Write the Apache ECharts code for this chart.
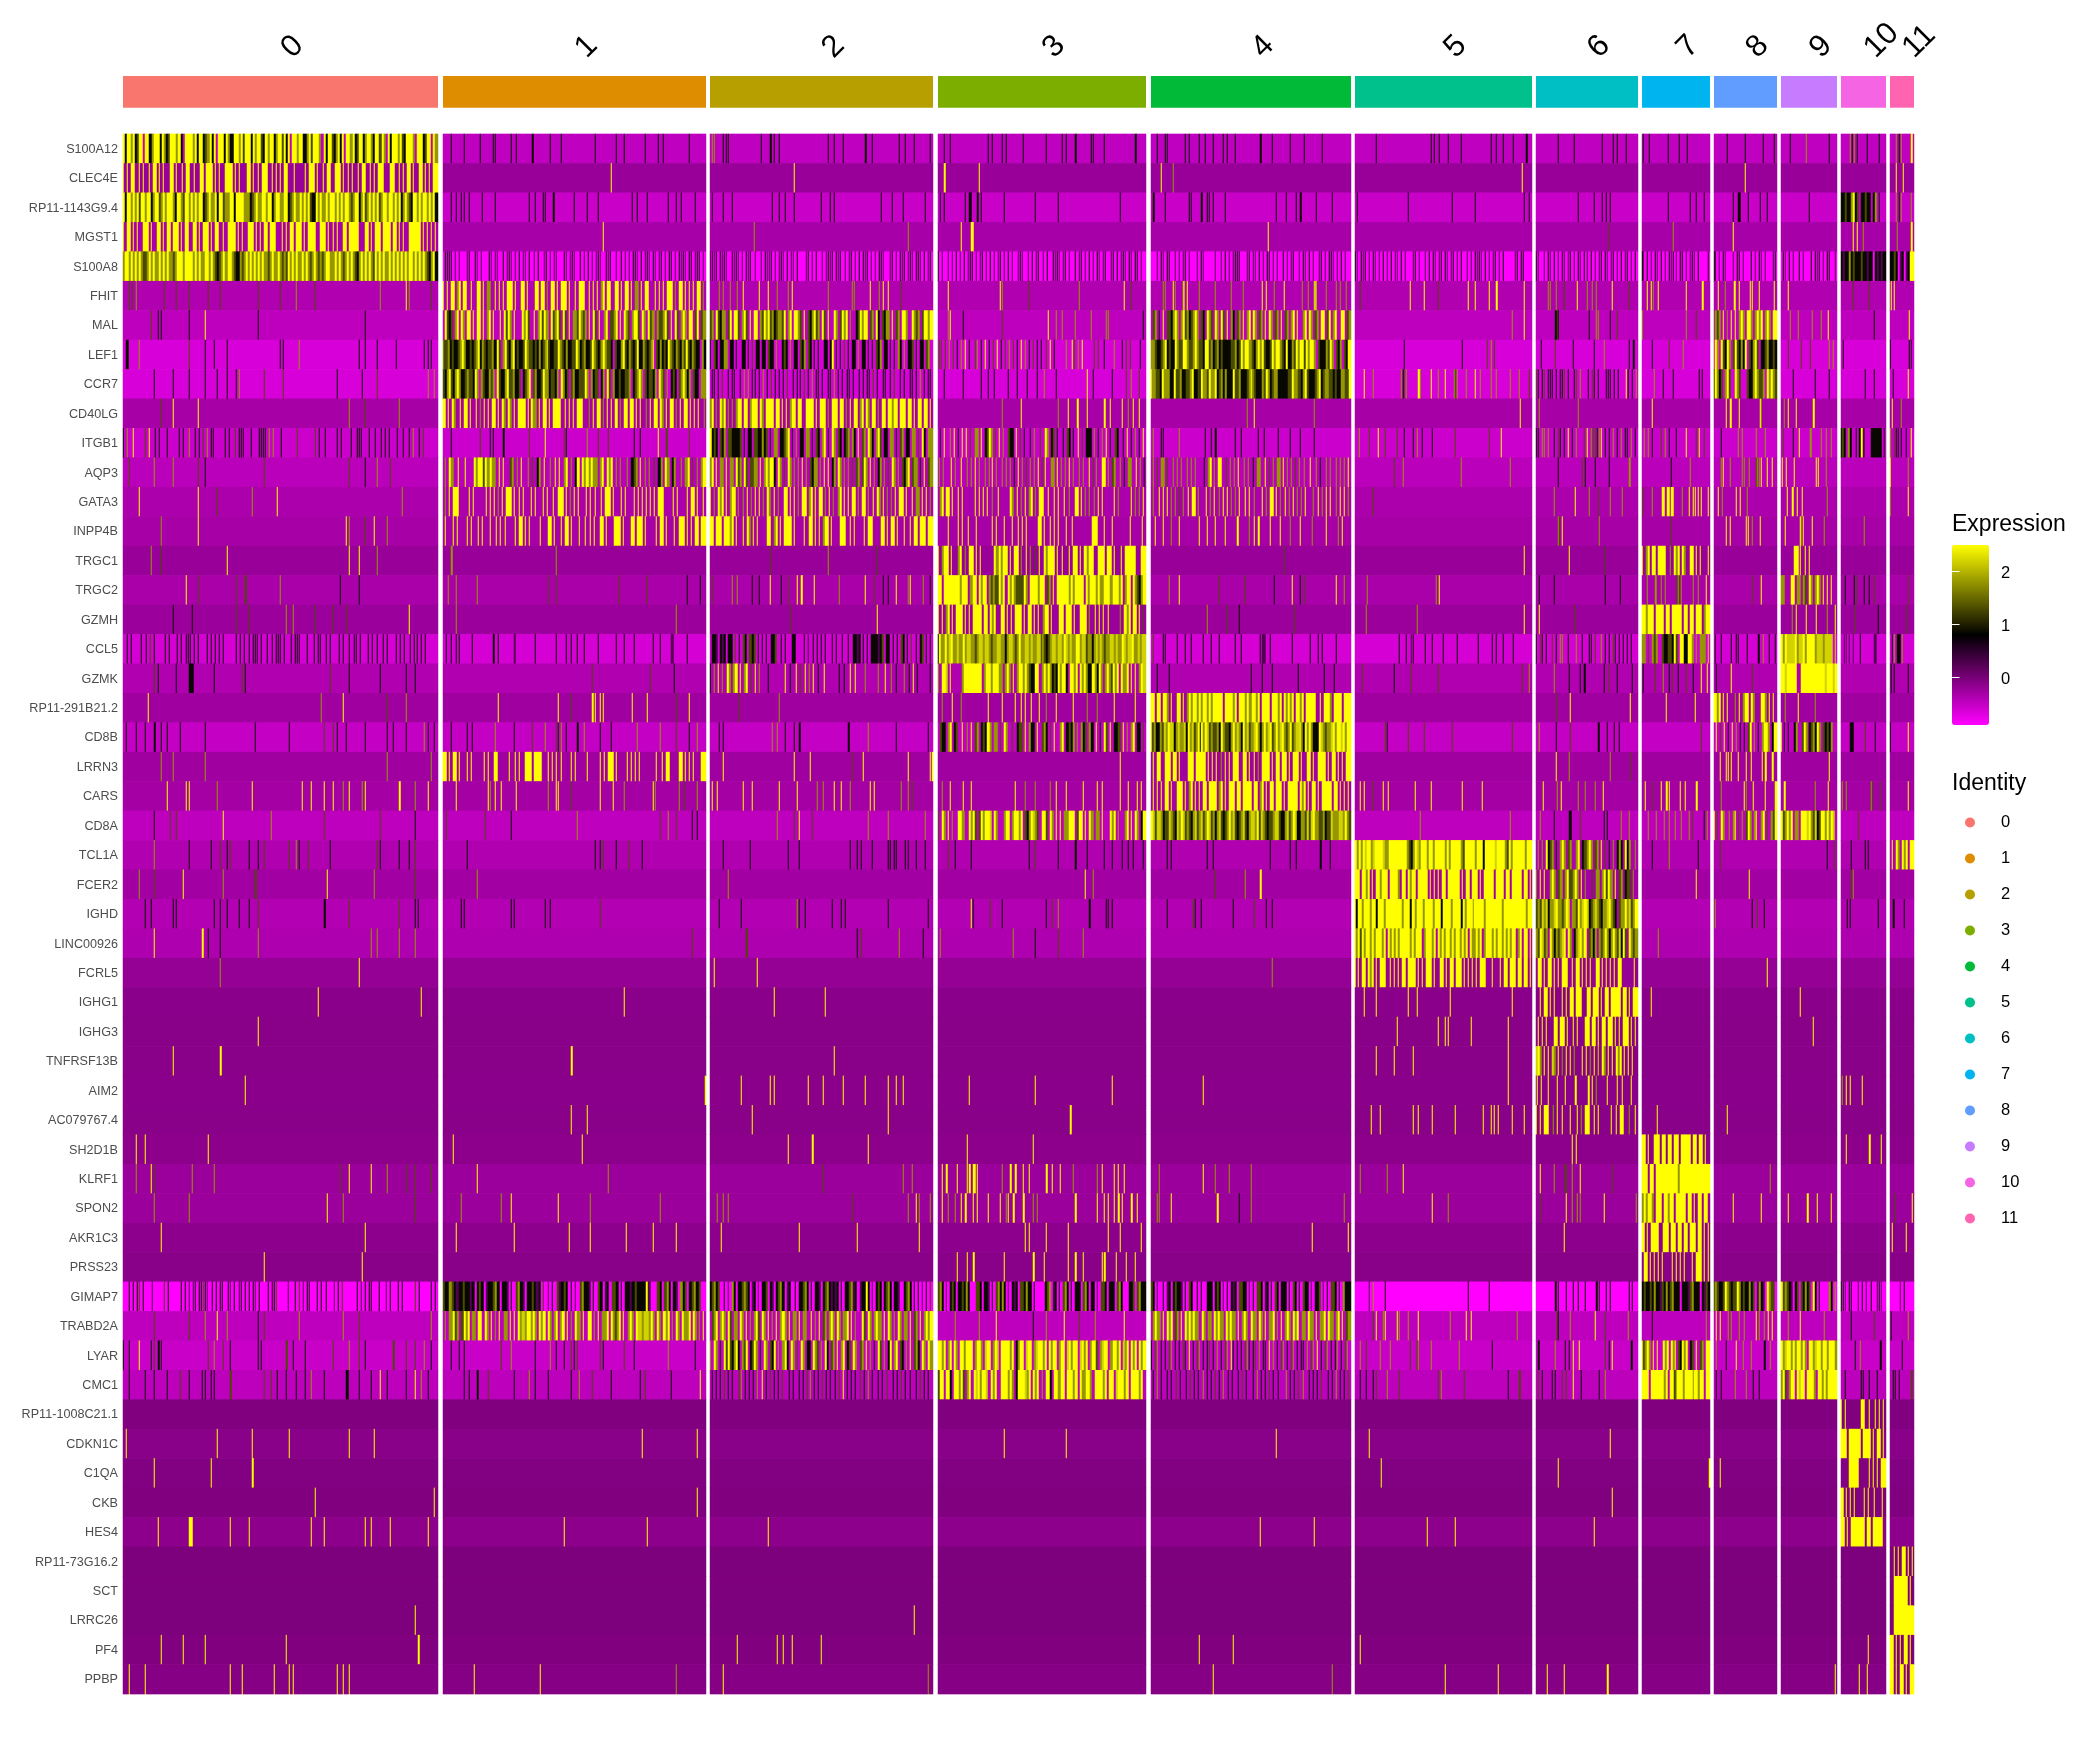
<!DOCTYPE html>
<html>
<head>
<meta charset="utf-8">
<style>html,body{margin:0;padding:0;background:#fff}#c{width:2100px;height:1749px}</style>
<script src="https://cdn.jsdelivr.net/npm/echarts@6/dist/echarts.min.js"></script>
</head>
<body>
<div id="c"></div>
<script>
const genes = ["S100A12","CLEC4E","RP11-1143G9.4","MGST1","S100A8","FHIT","MAL","LEF1","CCR7","CD40LG","ITGB1","AQP3","GATA3","INPP4B","TRGC1","TRGC2","GZMH","CCL5","GZMK","RP11-291B21.2","CD8B","LRRN3","CARS","CD8A","TCL1A","FCER2","IGHD","LINC00926","FCRL5","IGHG1","IGHG3","TNFRSF13B","AIM2","AC079767.4","SH2D1B","KLRF1","SPON2","AKR1C3","PRSS23","GIMAP7","TRABD2A","LYAR","CMC1","RP11-1008C21.1","CDKN1C","C1QA","CKB","HES4","RP11-73G16.2","SCT","LRRC26","PF4","PPBP"];
const clusters = ["0","1","2","3","4","5","6","7","8","9","10","11"];
const clusterCells = [315,263,223,208,200,177,102,68,63,56,45,24];
const gapCells = [5,4,5,5,4,4,4,4,4,4,4];
const clusterColors = ["#F8766D","#DE8C00","#B79F00","#7CAE00","#00BA38","#00C08B","#00BFC4","#00B4F0","#619CFF","#C77CFF","#F564E3","#FF64B0"];
const geneBase = [-0.48,-0.22,-0.53,-0.32,-0.9,-0.37,-0.47,-0.64,-0.64,-0.31,-0.56,-0.44,-0.35,-0.31,-0.22,-0.33,-0.24,-0.61,-0.37,-0.27,-0.51,-0.27,-0.29,-0.47,-0.37,-0.28,-0.39,-0.36,-0.19,-0.12,-0.11,-0.11,-0.12,-0.11,-0.13,-0.24,-0.24,-0.14,-0.11,-0.9,-0.47,-0.53,-0.45,-0.05,-0.11,-0.07,-0.05,-0.13,-0.04,-0.04,-0.04,-0.05,-0.09];
const stripeLevels = {p:0.25,k:0.85,d:1.3,o:1.8,l:2.2,y:2.5};
const exprRows = [
"=ykyyoykdyy.yykoyyykyokdyyyoyk.yyyyoykyykdoyky.yyykyokkyyoydyyykyoyydkyoyykoyydyky.yyoyykkoydyyyo.ykyydkoyky.yyoykdyykoyyokyydyo.ykyyyoydkyyyo.yyykdyy.yo|3k 8k 14k 19k 20k 26k 28k 34k2 41k 45k 58k 66k 69k 77k 82k 84k 94k|1o 2o 6k 7k 8k 23k 27k2 29k 31k 53k 56k 60k 70k2 73k 85k 88k 92k 99k|3k 6k 24k 26k 31k 33k 41k 52k 60k 62k 66k2 74k 75k 80k 95k2|3k 7k 8k 17k 19k 24k 27k 31k 36k 38k 42k 55k2 61k 70k 77k 86k|12k 43k 45k 48k 53k 60k 77k 80k 84k 90k 97k 98k|22k 38k 65k 76k 80k 89k|2k 11k 39k 55k 67k|21k 50k 79k 97k|17k 46o 88k|21o 25k 29o 36k 60k 86k|28o 38k 49o 92y 94y",
"=y.y.yy..y.y..y.yy.y.y..yy.y..y.yy..y..yy.yyy.y.y..yyyy.y.y...yy.y.y.yyy..y.y.y.yy...y....y.yyy.y..y.yy..yyy.y.y.y..y.yy..y.y.yyy...yy..y.y.yy.y..yy.y.y.yy|64y|38y|3y2 20y|5y 11o|95y|||50y|||26y 57y",
"=ykyyoyoydyyoyykoyydoyoyyyokyyodyyoyoyoyykdoyooykyydooyykyyyyoookdoyooyyoyykoyyooyykdoyooyoyoydkkyoyooyoyyoyoyoyyodoyykoydoyoyoydoyyoyyoyoykoyodkyyoyoyyoyoyk|3k 5k 7k 8k 10k 15k 20k 33k 35k 38k 39k 42k2 50k 55k 59k 72k 74k 78k 86k 89k 91k 96k|1k 6k 10k 28k 31k 34k 38k 50k 54k 56k 77k 82k 87k 97k|1k 3k 13k 15k2 16k 19k2 21k 32k 47k 58k 88k|1k2 7k 19k 20k 25k2 28k 29k 31k 37k 63k 68k 73k 75k2 83k 91k|1k 30k 55k 68k 96k 99k|42k 57k 65k 69k 73k|39k 71k 80k 93k|31k 38k3 55k 74k 86k|51k|=kkdkkoykd.kkdkk.ko.k..|28o 38k 49o 92o",
"=y.yy.y.y..yyy.y..yy.y.yy.yyy.y.yy..yy.y.yyy.y.yy..y.yyyy.y.y..yyy.y.y.yy.yyy...y.y.yy.yyy.y.yyyy..yyy.y.y.y..yy.yyyyy...yy.y.yyy.yyyy.yy.y.y..yyyyyy.y.y.y.y|61y|20o 89o|11y 16y3|59y||71d|47o|31y||27y 36y 51o|32o 93y2",
"=oyyoyoyoyoddoyoyooyoyoyoodoyyyoyyyyoyoyooyyoyodkdoyoyyodkkodoyoyoyoyoyoodoyooyododyoyoyooyoyodoyododoyyooyoyodoyoyodkoyoyoyodyoyoyooyoyoyoyoyoyyoyoyoyodkoyk|~.kkkk.p.p...pk..kp.p...kp.pp..k.pkp.p.k.pp.k.p.k..pk.p.pp...kp.pkp..k.p.k.p.pkp..kpk..p.k.p.p.kkp.k.pkp.kp.pk.p.kk.p.kpkp.kk.pkk.p|~pkpk.kpkp..kpkp.p.kpk.p..p.kppk.p.pkp.k.pp.k...pk.p.k..p.pkpk.kpk.p.pk.p.k.kpk.p.p.kkp..pk.p.kpk.pkp.kkp.k.pk|~k.p..p.p.k.p.k.pkk.p.pk.p.k.p.pk.p.k.p..pkp..p.k.pk.p.k..kpkp.pk.p..k.pk.p.k.p.kp.pk..pk.k.pkp.kp.kk.p.|~...p.kp.kk..p.p.pk.p...p.kp.....p..p.k.p.pkkk...pk.pp.k.p.kk.p.p..k.p.pk..p.kp.k.p..pk.p.kkp.p.k.p..|~kp.kpk.p.kp.p.k.p.k.pp.k.p...pk.p..p.k.kp.pk.kp.pk.p.k..p.p.kpkp.k.p.pk.p.k.....pk.kk...|~kp..p.kp.k.p.kp.pk.p.kp.kp.k.p.pk.kp.pk.p.k.pk.p.k|~kp.k.p.kp.k.p.kpk.p.kk.p.pkp.k....k|~pk.p.kp...p.kk.p...k.p.kp.p...pk|~.kp.k.p..k.p...k.kpk.p.kk..p|=kpkkokdkkkdkkpkk.kpkpk|=kkdk.pk.pkyy",
"2d 3d 4o 13d 17d 21d 27d 31d 43d 50d 55o 61d 82o 90y 91o 98d|=y.y.yy.oy.yy..y..yy.y.oo..y.y.y.yyy.y..yy.y...yy.yy.o.yy.y.yyy.y..y.yyy..y.y.y.oy.yy..yy.y.yy.y.oo.y.yy...y.y.y.yyy.o.yy.y.y.y.yy.o|4o 6o 9o 12o 15y 22y 26y 30o 35o 37y 53o 64o 65o 72y 76o 78y 80y 86d|5y 30y 31o 44d 68o 90y 93d|6o 7o 11y 12o 16l2 18y 24o 32o 40o 46o 56y 58y 62o 67y 76o 79o 82l3 88o 93o 95o 98o|3d 31y 39y 47d 64y 68y 76y 80y2 96y|12o 14o 20o 28d 41y 50o 55o 59o 75y 92d|7y 13y 16o 24y 66y 89y 91y|7y 18o 33y2 40y 58y 61y 72y 96y|12y|28d 63d|6y 19y",
"9d 11k 12k 21k 26y 43k 77k|=.ydkd.oy.yo.yy.y.yy.y.oy.y..y.ydyo.y...yoyd..y.oydyo.ydoyd.yd.y.oodyodo.y.yd.y.oy.ddoy.y.yod.oyyd.yo.ydo.oddoyd.y.yd.oyo.yy.dy.do|=do.ydkoo.dy.yyd.oyd.y.yy.odyoydokdoody.oy.yyod.y.dkoydo.yd.y..yo.dyoy.o..kdyoyy.do.yk.dkoo.y.do.yyo..yodo.dyyoy|5o 6y 12k 31d 53y 57o 60o 66o 74o 81o 82o 99k|=.do.k.y.ddkoyo.oydokdoyo.dk.yod.yo.yd.y.ok.do.y.oy.yo.do.y.yo.do.y.do.oy.y..oy.yo.do.yy.dy.oy..yy.do|89o 96y|19k4 21d 52k 59o 61o 73k 80d|0o 66o 81d|=.odo.y.o.y.y.oyo.yyo.oyoy.oyo.yy|17o 30o 56o 73o 86y|76k|81y",
"1k3 5o 21d 26k 29k 33k 50k 51k 56o 75k 77k 81k 87k 96k 97k 98k|=oddokdkkdoyokkdkdoykodkddokkyd.oydkoykdkkdyoddkdkokdoydkkddyodkokkddyokdokkdyodkdoyoddk.dkkoydkodkdykkodkdoy.dkokdkyodkodkodydkodkk.ok|=k.dk.kkoo.kk.k..kk.k.d.kk.kk.dkk.o..kdk.o.kk.dko.dk.k.k..kk.ky.k.k.d.k.kk.o.kk.k.k.dko.kk.k.k.ok.o.kkd.k.kk.do.|~.dd.d.o.d.k.o.y.k..do.k.y.k.d.y.k.d.o.d.k.y.o.k.d.k.k..d.y.k.....o..yd.o.y.....d.d..k....o...k.d.d....k..|=oodkkdoykdkkyoddyyoddoyoddkyydokdokdkkkkddokdyoyyodkoyoydkkdyoyyodkykkodyoyydyoyyo.dkkkodyo.dko.dky|28k 61k 75d 77o 79d|5k 19d 37k 57k 67o 92k 96k2|15k 41d 61o|=.yo.ydkyo.dydkoky.dkoyd.kkdokkdk|12d 36d 53d 88o 94o|5k|2k 81k 92k",
"10k 16k 21k 26k 30k 33k 36k 37o 45d 51d 68k 76k 81d 97o 99o|=dkoydkoyokkdoddkyo.odkkodo.ydkkoyddokkd.kdoy.dokkdyookddko.yokd.dokkdddyo.okdd.ko.yd.okkdkkddo.kdoyo.dkddko.yod.o.kdk.doyoko.dkk.oo|~.kk.k.d..k.kk..k.o.o.kk.k.o.k.d.k.k.k.d..k.kk.d.k.o.kk.k..kk.o.k.k.kk.k..k.k.kk.d.k..kk.k.d..k.k..kk.k.o.k.kk|3k 12k 21k 24k 27k 34k 38k 43k 48k 51o 57k 72y 75k 84k 91d 93o 97d|=yooddkyoookkyddokkddoykkdkyoodyooykdokokkkyddokkkdoyodkkkodyokdookkkkkddyooddkoydkkkdoykdooddkdkkooddy|5y 10o 26o 27k 28d 29o 36y2 37o 43y 47o 51y 56o 57d 58o 63o 68y 71o 77o 80o 88o 93o 99d|~dk.kd.kkk.k.kkd.k..kd.o...k.dk.k...kkk.k.k...yk.k.o|18o 32k 46k 85k 89k|=dyokd.oyd..yod...dkkoyoddo.yoyod|22k 62k 87k|54k 76k|13k 79y",
"12d 16y 24y 72o 77d 88o|=yy.y.yo..y.yy.y..y.o.y.y.yy.y.yo.yo.y.yyyy.y.yoo.y.yy.y.yyyy..y.y.y.yyy...o.y.yy.o.y.y.yy.o.yy.yy.y.y..o.y.yy.yo.y.yy.o.y.yy.y.y.y..o|=oy.o.yoy.o.o.oyy.yy.oyyy.yo.yyyy.yy.y.y.oyy.yy..yyyy.y.yyy.o.yyy.yy.o.y.yy.oy.yo.yy.o.yy.yyoyy.yyy.yy.y.yy.yy.y|31o 40y 58o 63y 67y2 72y 80y2 83y 89y 92o 94y 97y|48o 52y 82o|94y|3o 42o|15y|19y 26y2 40y 74y 76o|5o 12y 27y 58y2||10y 48o",
"~k.o..y.....d.y..k.k...k.....k.k..o..k.k.d.o.kk.....k.k..d.kkk...k...kkkk.o.o...k.......d........d.k..k.....k.k....k..kkk...k..k..k.k.k...k..k..k.o..k.d......|3k 14d 18k 19k 23k2 33d 39y 46d 47k 55o 59d 63d 73k 75k 82y 85d2 94d|=ykdk.dko.ddkkkkd.k.kk.ddkkokd.k.oo.kkdoy.k.o.kk.oo.k.dk.oy.k.yo.dk.kdo.ok.y.do.yok.oyd.kk.oo.k.do.kk.oo.d.yk.oo|=.k.y..o.y.k.y.y.d.oo.y.kdyo.d.y.o.dkk.y.d.k..k.o..d.yo.kd.k..k.dk.k.y.d.kkk.o.k.o.y.k.dk..k.y.k.o.k.y|1o 5k 6k 14o 27k 30k 32k2 42k 45k 54k 57k 64k 70k 75k 82k|2o 8d 13y 17d 24d 28k 33k 35o 38k 44k 57d 76d 83y|~kk.oo.o..k.dk.k.y.k.o...dy.oddkoy.k.k.o.k.o.kk.o.k|3o 9o 15k 29d 34o 41k 50k 65y 81d 85y 92d|11k 38o 45o 67o 82o|3d 21k 32y 53o2 73o 81o 90o|=kdk.ok..k.kyp...kkkkkk.k|2o 18d 26k 34k 47k 71k 92y",
"2d 10o 16o 24d 26k 45d 72d 77k 81o 85d|=.o.yo..y..y...yoyydyoyoo.y.y..do.o.y..o.d.ko.y..o.y.y.oy.o.ky.yoyoyoo.oy.yoy.o.o..o.kdo.y.o.o.d.ko.yo.ko..o.oy.d.o.oy|=oy.y.oo.y.oo.ydo.yd.ddoo.y.oyoyyk.yo.d.yo.o.o.y.o.dkoo.o.y.y.ko.yo.o.o.d.do.dyo.y.o.ko.o.d.yo.o.dkoy.doo.k.y.do|=.o.o...y.o..y..o.o.y.o..o.o.y.o..o.o.o.k.y.o.d.o.o.y.d.y..oo.y.o.o.y.o..o.o..y.d.o..yy.o.do..o.k.oo..y.o.k|=.o.d.oo.d..o.o.o..o.o.o...k.oy.o.yy..d.o.o.y..o.o.k.oo..y.d.o.oo.y.o.o.d.o.o..y..o.k..o.o..o.o.o.y|22d 27o 60o 88o|22k 46d 49k 58k 72k 92o2|43k 71o|11o 15y 25o 45o 49o 57o 68d 70o 72o 75y 86y 94y|1y 9y 23y 63y 68y 81o||2y 77o",
"5y 24y 30d 41o 49y 89o|=.o.y.yyy.....y.y.....y.y.y.o.y.yyy.y.y.y...y.y...y.y..y.yyy.y.o.y.y...y.y.y..y.yyy.y...y.y...y.y.y.y.y.y.yyy....y.y....y.yy.y..y|=y.o.yoy.y.oyy.o.o.y.o.y.y.o.yo.y.o..yy.y.y.o.yy.oy.y.yy.o.y.o.oy.y.y.yy.o.yy.o.y.yo.y.o.o.y.yy.y..y.oo.y.y.o|=.oy.yy.y..y.y.....y.y.y.y.o..y.....yo.y.o.y.oy.o.yy..y..y.y..y.o..yy.y.o.o.o.y.y.....y.o.....y.o.o.y|=.o..y.y.y.o.o.d.o.y.yy.o...y.o.y.o.y.y.o.o.y..y.y.o...y.o.yy.y.o.y.o.y.o.o.y...o.y.o.y.y..o.y.y.o|10d|18o 39y 52o 61d 73o 85o|1d 15o 30y3 38y3 44y3 59o 70y 76y 79y 83y 88y 99y|6y 13o 35y 42y 54o|11y 20y2 29y 38y 84o||2o 78y",
"12o 24y 71y 72o 77d 80y 84o|=.y...y.y....y.y..y.y...y..y.y.y....y.yy.y.y....y...yy.y..y.yy.y...y..y.y.y..yy.y...yyy.y...yy.yyy.y....y.yy.y...y.yyy.y.y.yy.yy|=yy.yyy.yyyoy.y..y.yo.y.y....yy.oy.y.yyyy.y....y.yy.y.y.oyy.y...yyy..y.y....y.yy....yy.y.yy.y..y..y.yy.yyy.yy|=.....y....y.y..y...y.......y.y...y...y..y.y.y.....yy.y..y.y.y...y..y.........yyy...y...y........y.....y.|2y 6y 10o 14y 24y 28y 32y 37y 43y2 49o 52y 54y2 60y 65y 70o 75y 81o 88y 94o 96y||22o 23d 26y 62o|43d|19y 26y 51y 55y 62o 74y|8y 34y 37o 40y 56y 79o|52o|",
"9o 12d 33y 72y 75y 81o|3o2 43o|27d 53o 75d|=y.oyy.y..oy.o.yy.y.y.....yoyoyy.y.yy.o.y.o.d.y.yoyyy.y.y..y.yy.y.yoyy..yyy.yy.y..y.yyyyy..yy|67d|96y|33y 68d|=y.oy.yy.yyyy..o.yoy.yo..yy.y.y...y||24y5 35y 44y 50y||",
"20y 24d 36d 39d2 50o 69k 75k|2o 5o 13o 40d 43d 67d 78d 93k 98k|1d 10o 12o 19k 22k 27y 32k 35d 39y 41y2 47y 58o 70y 74d 78k 80k 84y 89o 90y 96o 99k|=yy.yyyyyyyyoyyy.oyy.yoyy.ododdyoy.yoyoddddyo.yyyyoyy.do.y.yyyyyyoyoyyyy.yoyyyoyooyyyoyyyoy.oyy.yodkoy|9o 14y 34d 47d 62k 71y 75k 77d 93y 97o|7o 46o 48y|3k 18k 68k 83k|8o 19o2 28o 35o 50d 53o 55d 58o 76o 83o 95y|62d 75y|=oo...yy.oo.od.yo.oyo.y.y.y..|10k 29k 34d 52k 64k 76d|77d",
"16k 22k 36d 40d 52o 54o 61d 67d 71d 91y|5o 89o|36d 75y|=y.y.oy.y.yyy.y.y.yyyy.yy.yoy..yy.y.y.yyy.y.yy.y.y.oyy.y...yy.yyy.y..yyy.o..y.y.y.y.....o.yoy.yy.y.d|28o 38d 44k 72d|6o 35o 96y|3y 39d|=yyoyyy.yyyy.yy.yyyyy.yy.yy.yyy.oyy||20o 27y 45y 64y 84o 98y|32d 83k|70d",
"~..k.k....k.k.d.k....k.k...k.k.kkk.k.k...k.k.k.k.k.....k.k.k.k.kkk.k..k.k.kkk.k..k.kkk...k..k.kk..k.k...k.k..k.kk.k...k.k.k..k.k...k.k.k..k.kk.k.k.....|1k 3k 5k 6k 11k 19k2 21k 27p2 35k 43k 47k 49k 51k 54k 59k 66k 69k 73k 80k 83k 87p3 93k|=.kkp.kpk.kk.d.k.dk.dkd.k.k.k.kkd..k.k..kk....k.p.k.k.k.k..k.k..k..k.kkpk.k.k.kkkpkd.kk.k.k.dk.k.d.k.kd.k.k|=kyooyolyoolooyolloodollollodoollookollodoyoolloloolldodkdollolloylolooyyolldookololodoollolooylollyoololl|1d 6k 7k 13k 17k 20k 26k 30k 34k 42k 45k 55k 56p4 60k 71k 80k 84k 86k 93k|25k 29k 32p 33k 40k 44k 50k 58k 70k 78k 80k 84k 90k|~k.dk.k..d.k.oo..k...o..k..kk.d..o.k.k.dk.k.k.k.k..|=oo.d.odo..dkkddkyd.yykkyyo.o.ooo.l|2k 12k 28k 35k 39k 54k 71k2 79o 88k 98k|=yoyllllyollyoyyyyolllollll.l|7p 11p 18p 28p 44k 76p3|10k 16o 30k 35k 40k 45k 50o",
"10d 11k 17k 21k5 29k 38d 39k 66d 72k 82k 90k 93k|57d 79d 88k|=k.o.y.o.yo.oy.y.oy.d.y.o...k.......y.k..y.d.y.o.y.k..y......k.k..y.y....o.....o..y..o.k...o.k.y.k.....k|=o.yyl.y.....oyyyyyyyyy.oyyoyyyoo.oyo.y.oyyoyodkkyy.oyoyokdkyoyyk.yyoy.yoyokkyokyo.oyodyoy.yooy.y.y.oyl|3k 9k 50k 56k 61k 74k 87k 92k|4d 22k 32d 47d 95d 99o|18o 33k 44k 48k2 67k 72d 80k 95k|1k 19d 31o 41k 45d 53k 65d 76k 88y 97y|4k 27y 61d|=yylyyyyy..yyyyyyyyyyyylyyyly||3k 18k 80k",
"8y 63o 70y 84d 90o|21y 44y 49d 57y2 58y 60y 61y 72y 78y 89d 94y|13d 31o|2o 7y 11o 24y 31y 37y 40y 42y 45y 49y 52o 57y 65y 72o 77o 85y 95y|=yy.yy.yyo.y..yy.y.oyoyyoyoyyoyoyyyyy.yyyyoy.yyyoyoyyoy.yyyy.yyyoy.yoyoy.yyoy.yyyyy..y.yyyo.yyyy.yyy||20d 34y 93y|36y 79y|=yyoy.y.y...o.y.oyy.yo...yyo.y.y.|7o 30y 61o||",
"1k 4k 7k 10k2 12k 14k 18k 26k 42k 53k 64d 67d 68k 71k 77k 84k 86k 90k 96o 97k 99k|3k 9k 11k 20o 27k 34d 39o 43d 44k 45o 47k 51k2 54o 60k 64k 74o 83o 89d 94k 97o|4k 6k 28o 30o 34k 38k 40k2 62k2 71o 84k 98k|=.dkk.oy.kd..y.o.y.do.kdkyo.oo.d.yo..d.kdd.y.okk.y.dok.d.y..oy.kdko.o.okd.ok.y.k.yd.y.kkd.y.o.oy.kk.d|=ydokkodloyllkoloolkyoldoykyoyldoddokyoddkoyolokyoldoolyokoyolydoyolyodoydollyokyoyokkkylodoolyoyylyoyy|17d 18k 30d 39d 55d 89d|3o 20k 34d 61k2 70k 77k 82k|88d|=.y.d.y.k.y.o.k.k.dy.o.k.oyyo.ky|=y.k.k..ko..dyo.kdokyo.dkdko..|21k4 54d 78k|2k 80y",
"12o 16o 26o 84o 98o|=yy.y.yy.y...y.y.....y.y..yy.....y..y.y..yyy.yyyy...y.y.y.y....y.y.....y.....y.y.yyy.y....y.y.y.y.......y..y.yy....yy.y.y.y...yy|6y 38y 45y 64d 69y 89y 99y 100y|88y|=.y.yy..yyy.yy.y...yyy.yyyyy.y.y.y.o.y.y.yyy..yy.y.y.o.yyyy.y.yy.yy.y.yyy.y..yy.y.yyyy.y.yy.y.y.yy||20y 33o 73o 93d||10y 20y 23y 28y 39y 52y 60y 78y 83y2 94y2|87y||",
"14y 20y 21y 30o 41y 57y 60y 64y 67y 70o 72y 76o 77y 88y2 93o 97y|5y 17y 18o 20y 22y 28y 40o 43y 44y 49d 60y 65y 69o 80y 81o 90o 92d 97o|1y 3y 15y 19y 31y 39y 48o 51o 56y 59y 63o 72y 74y 86o 89o 91d|2o 6y 12y 16y 37y 42o 47o 54o 57y 62y 70y 77y 79y 88y 92y 96y 98y|=.y.y.y.yy.y..yyy.y.oy.y.y.yy.yyyy.oy.y.yyy.yy.yyyy.yy.oy.y.yy.yyy.y.yyyyy.yoy.y.yy.y.yyyyy.yy.y.y.y|3y 5y 10d 16y 19y 34y 43y 61y 72y|7y 21o 25y 42o 49o 58o 66y|4y 15d 29y 36y2 41y 56y 64y 81y2|11o 48y 51o 63y 83y 98y2|5y 8y 61o 85y|3o 11o 68o 70d 88d|77y",
"10k 15d 17d 32y 47o 64d 82d 93k|1d 16d 26k 51o 83d 86o 89d 95k 97k|30o 38d 40y 46d 71o 80o 97o|=d.yo.y.o..yyo..yoyd.dyoyyl.yo...oyy.oyyoy.dkoylod.yyd.yo.y.y.ooyyy.dyy.y.yo.oo.y...yoy.o..oy.y.yo.ky|=yldllokddlodkloyldodkoldoldoyldokoldkdoyoldkdoldkolloydlodkddolldkkoldoylkkoodldlyooddokddlooolloyod|37o 88o|4o 18k 33k3 44d 67k 70k 84o 92o|9o 21o 33o 41o 49o 58o 70o 75d 92k 97o|=y.d.yo..o.oy.d.o.dyo.oy..oy.d.ody|=ydoyoy.oo.yyylyodlkdyyoyoyl.|38d|",
"10o 21k 28k 31d 33k 34d 40k 43k 45d 53d 55o 56k 59d 66k 81d 82k 88k 91k 93d|9k 58k 60k 61d 66k 71d 76k|6k 18k 35k 40k 63k 66k 68k 73k 80k 81k 83k 84k 88k 89k 93k 97k|5d 8k 16k 44k 47d 58k 66k2 72k 80k 84k 89k 92k 94k 99k|8k 10k 28k 31k 60k 70k 73k 85k2 90k|=yoyoylyyolyyyylooyyyyyyyyyodkoyloyyyoyyoyyyyyoyoyyyyyodyyyyyoyyykyyyyylyyyyodyoyyyyyyoyy|=.o.o.ykdo.k.oyo.do..oy.kdoyo.do.y.d.k.o.kok.yko..o|15k 40o 83k|9d|84k 96d|23k 55k 62k|=.y.yo.yoy.yy",
"5o 10d 19y 32o 42d2 65y 80o 93d|13o|8o|71y 75o|32d 47o 55y2|=yyy.yyoy.y.yyoyyy.yyyyo.yy.yoyy.yyyyy.y.y.y.yy.yyyyyy.y.yy.yyy.y.yyyyy.yyyy.yy.yyyyy.yy.y|=o.y.y..oyo.do.oyddoyo.y.o..d.oo.oydyo.y.do.kdd.o.|81y|57y||22d 28o|",
"7k 9k 16k 17k 29k 31k 33k 37k 40k 43d 64k2 72d 88d 93k 94k|7k 8k 26k 27k 39k 41k 60d|4k 14k 39o 40k 43k 55k 59k 61k 80k 98k|16y 17k 25d 31k 52k 55d 58o 73k2 81k 82k 84k|8k 21d 22k 25k 41k 52d 58k 61k|=ykyyoyyyoyykyyyoyyyyyyyyoyyykyyoyyyoyyyyoyyykyyyyoyyyykyoyyyoyyyyyoyyyyyyyyoyyyyyyyyyyyoyy|=dodlolkoolyoodoyl.oodyolylkdolodkoolyodk.dooyoldoy||1o 62k 69d 81k||14k 20k 85k|15k2 60k",
"10y 25y2 27k 31k 43o 79o 81o 88o 93o|95d|16d2 66k 68d 85o 96k|1o 36o 47k 58d 70o||=yoydyoyyoyoyyyoy.yoyoyoyyyyyoyoyyy.oyyyoy.yoyoyyoyoyyoyoy.yooyoy.oyyyoyoyyoyoyoyy.oy.yy.y|=odyldo.yokodoly.yo.kolyoy.doko.odoyokoyodlkyd.yodo|24o||||",
"31o 75y||2y 21y||61o|=y.y.yy.yoy.y.yyy..y.y.y.yy.yyyy.y.y.yyy.y..yy.y.yy.yyy.y.y.y.y.yyy...y...y.yy.yyy.yy.yy.y|=.yy.y.yy.y.y.yyy..y.yy.y.y.y..yy.y.y.y.y.yy......y.||86y|||",
"62y 95y|69y|29y 52y|||5y 12y 30y 35y 54y 89y|=..y.yy.y.y...y.y.yy.yyy..yy.yyy.y.yy.yyyyy.yy.y.yy|14y||34y||",
"43y|||||24y 47y 51y 53y 66y 87y|=.y.y.y...yy.yy.y..y.y...yy.yy.y.yy.yy.y.y.yyy.y.y|||59y||",
"16y 31y2|49y2|56y|||12y 22y 33y 87y|=lyo.y.y.lo.y.o.y.y.o...y.y.o.y.l.yo.y.y.yoy.y.y.y..|||||",
"39y|100y|14y 27y 29y 44y 51y 60y 70y 80y 84y 87y|15y 47y 84y|26y|87y|1y 5y 12y 21y 29y 39y2 51y2 55y 59o 70y 80y 85y 94y||||3o 11y 20y 48y|",
"|49y 55y|19y 80y|64y2||9y 14y 33y 36y 44y 57y 73y 77y 79y 81y 89y 96y|=y.y.yy..o.y.y...y..y.o.yy..y.y.....y.y.yy..o..y|23y|21y|||",
"4y 7y 27y|4y 53y|35y 46y2 71y|14y 46y|||36y 40y|=yy.y..yyy.yy.yy.yy.yyyyy.yy.yy.y.|||11y 64y2 90y|",
"4o 9y 10d 22o 29o 69d 72y 79y 84o 90d 93d 98d|13y 63o|51d 87o 91o|2y 4y2 9y 14y 15y2 17y3 19y 31o 35y2 37y2 41y 44y 52y2 55y 59y 65o 77o 79y 85y 87y 90y|4o 26y 32o 39o 50o|3o 18o 27y|4y 18o 29d2 36o 44y 75d|=yyy.yy.yyyyyyyyyyyoyyyyyyyyyyyyyyy|90o|||",
"10o 21o 65y 70o 93d|7o 22o 26y 44y 56o 83o|3o 6o 8o 64d 89o 93y 94o 99o|2y 5o 8o 11y 13y2 17y 19y 24y 30y 33o 34y 36y2 41y2 46o 48o 66y2 77y 80y 82y 85y 87y2 89y 93y2 96y|3o 4o 10y 33y2 44k 50o 97o|44y 53o|4d 30y 36o 41o 44o 67y 99o|=oyoyyo.yyy.yyoyy.yyyyy.yy.y.yy.yy.|31y 76y|13y 47y2 66y 91y||23d 95y",
"12y 77y|5y 27y 48y 56y 70y 80y 89y|5y 40y 66y 94y|42y 44y 52y 63y 82y 88y 98y|81y 99y||28y|=yy.y.yyyy..yyy.yyy.yy.yy.yyy.yy.y.y||||7y 68y",
"45y 76y|||9y 14y 17y2 32y 46y2 51y 63y 66y2 70y 79y 80y2 86y 91y 95y|||| =.yy.y.y.y.y....y.y.y.y...y.yyy.y.y||||",
"~...k.k.kd.k...p.....d.k.....k.k.p.pk.kkdkp.k.k.kk..kp.k.pk.k.k.kp.k...k.kkd.....p..k.d.p.kk...k.k.k...p.k.d......k.p.k.kk...k..p.k...k.k.....d.k.....k.k|=dkkodkpkkdkkpk.kdk.pkkdok.kkp.k.dokp.kkdkpk.d.p.k.dpkdk.k.p.dokkp.k.dk.pk.ddk.k.kkpkdkkkkyp...dk.dok.kp.okd.kdokd..|=kdokd..k.p.ok.kkdodk.pk.p.kkd.kp.kdok.pk..k.kkdok.k.kkp.kdokpkpk.k.kkdopk.pkkyk.p.kdk.kdok.kkp..kdok.k.k.p.k.d|=dok.p.kdk.kkdkok...ddk.kkp.k.dokok.p.kpk.ddkokk.k....kdo.pk.k.dok.k.kkk.dok.kk.p.ddk.kkk.dok...kkd.dokk|=dk.p..k.pk.kdkkp.k.dk..k.k..kkk.kdk.p.k.kpk.ddkk.p.k.ddk.pk.k.dk.kkk.k.dk.k.dkk.p.kkd.p.k.ddk.k.okkk|8p 10o 17k 64k 76k|19k2 22k 30k 37k 42k 49k 59k2 62k 69k 73k 92k 95k|=kdkkdkokkpdkokdokkk.kkkpdokkk.kpdk|=dodkkdyodkddyokdkkokd.pokp.yodd.|=ydodkp.kd.dkokd.yk.k....ok.o|~kkp.kk..p.k.p.k..pkp.|~.....p.k....",
"10d 21d 26o 30y 33o 43k 45d 56o 70o 75d 98o|=.o.ooydo.dyoy.oo.yy.yo.y.o.y.oo.y.y.yoloyyoyo.yoy.yo.oy.oy.y.o.yoo.y.yy.o.y.ooy.yodoy.y.oyo.yllolloyo.yo.yoy.o.yo.yooy.yo.o.y|=.doy.oyo.yd.oo.yo.y.o.oyd.yo.y.o.y.oyo.y.oo.y.oo..y.o.y.do.oyo.yo.ooy.y.o..yd.yo.oyoo.y.yo.o.yo.oo.y.do.y.oyoy|8o 20o 28y 46k 52o 61y 68d 76o 90y|=.oyoo.y.yoy.do.y.yoyoyoo.yo.oo.yoyoo.yoyoo.y.oyo.yoo.yo.y.ooy.o.y.oyo.yoy.oo.yoo.y.ooy.yoo.oy.y.do|10d 12y 16o 17y 24y 25o 30o 36y 54o 63y 66y 92o|21d 22k 34o 58y 68d 91o|15k 96o|3y 9y 22o 27o 40o 48o 68y 73o 81o 87y 93y|12o 35y 78o|23k 76d|3k 78o",
"0k 2k 5y 9d 9k 10d 11k2 12k 27d 29o 32d 34k 43k 44k 52d2 54k 58k 67d 72o 75d 77k 86d2 90d 93d 96o 98k|3k 6k 8k 22d 26o 35k 41o 43k 46k 49d 50k 51d 60d 61k 69d 73k 86o 96k|=o.yo.k.ydydkoyk.ody.kdyo.k.yo.dky.o.oyk.yo.d.yo.kk.yod.o.yk.do.y.oy.kd.yo.do.y.o.k.yd.o.ky.oy.dk.o.y.dok.yo.yo|=yyoy.oy.yo.yyoyyy.oyyo.lyy.oyl.yyyyoy.koyy.lyy.olyyoy.yoyy.oyy.lyoyy.lyoy.oyyd.olyy.oyyoy.loy.yoy.yoy|~k.do.k.k.do.k.k.dk.y.k.do.k.kd.k.o.k.do.yk.k.k.dok.kd.o.kk.y.o.k.do.k.do.k.kk.o.do.y.k.do.k.ko.k.do.|3o 6d 14o 20o 31d 35d 36o 43o 59o 78k|2k2 19o 29k 33k 37y 43y 68d 72k 75y 94k2|=ydoyo.y.y..yoy.yoy.dkyoy.kd.y.do.yy|3o 20k 35y 47o 60o 81k2 91o|=yolyyoyoyyoyo.yyolyyoyyoyyyo|32k 43o 89k 91k|52k",
"2k 7k 10k 14k 18d 21k 25k 26k 28k 29k 34d2 45d 47d 49k 52k 55k 58k 60o 64k 71k3 75k 79k 82y 84k 90k 93y 95o 97k|8k 10k 13k2 17d 27k 33o 35k 40k 49k 52o 57d 64k 75k 77d 87k 98y|~.k.k.k.d.k.k..do.k.k.k.o.y.k.d.k.k.d..k.k..k.k.do.k.k.d.k.k.k.d.y.k.k.k.d.k.o.k..k.k.d..k.k.d.k.k..k.d.k.k.|=dyy.yyk.yyoyd.oy.ylyoyyl.yoy..yyyoyo.kyyyloy.yoy.o.yyk.yyoyy.yyyoy.yooyyo.yyyyoy.yy.lyyyoy.yyyyoy.|~.k.o.k..k.k.d.k..k.d.k.k.o.k.k.d.k.o.k.k..k.d.k..k.o.k.k.d.k.k...o.k.k.d.o..k.k.k.d..k.k.o.k.k.d|3k 6k 10k 12d 18o 25d 47d 49o 62d 87k 93d2|2d 6k 16k 19k 26d 30d 37y 45k 62k 68o|=yyyy.yyyyyyyoy.yydoyyyoyyyyoyyoyy.yy|4k 11k 34o 52o 63k 73k|=oyd.oyy.ylyy.yyyo.yyoyoyyyy|10k 46k 50k 64k 82k|12k 21k 38k 93d2",
"||||||||||=y.y.......yy..y..y.y.y|",
"1y 30y 41y 53y 72y 80y|76y 97y||32y 62y|63y|8y|73y||||=yyy.yyyyyy.yyyy.y.yy.y|",
"10y 28y 41y2|||||15y|22y|100y|9y||=....yyyyy.....y.y.y.yy|",
"61y 99y|97y|||||75y||||=yy.y.y.y....y.y..y...y.|",
"11y 21y4 34y 40y 60y 64y 77y 79y 85y 97y|46y 78y|26y||55y 82y|41y 57y|57y||||=yy.y.yyyyyyy.yy.yyyyy.|",
"|||||||||||=..y.y.yy.y.y",
"|||||||||||=..yyyyyyy.y.",
"93y||92y||||||||| =..yyyyyyyyyy",
"12y 19y 26y 52y 94y2||12y 30y 33y 37y 50y||24y 41y|3y||||| 62y|=yy.y.y.yy.y.",
"2y 7y 34y 38y 48y 53y 54y 68y 70y 72y|12y 37y 89o|6y 98o||31y 91o|51y 81y|11y 28y 70y2|||98y|40y 60y|=yy.y.yy.y.yy"
];

const TOKEN = /(\d+(?:\.\d+)?)([a-z])(\d*)/g;
function clusterColumn(base, spec, n) {
  const out = new Array(n).fill(base);
  const s = (spec || '').trim();
  if (s[0] === '=' || s[0] === '~') {
    const thin = s[0] === '~';
    const p = s.slice(1);
    for (let i = 0; i < p.length; i++) {
      if (p[i] === '.') continue;
      const a = Math.floor(i * n / p.length), b = Math.floor((i + 1) * n / p.length);
      const joined = (i > 0 && p[i - 1] !== '.') || (i + 1 < p.length && p[i + 1] !== '.');
      const end = (!thin && joined) ? b : Math.min(a + 1, b);
      for (let j = a; j < end; j++) out[j] = stripeLevels[p[i]];
    }
  } else {
    let m;
    TOKEN.lastIndex = 0;
    while ((m = TOKEN.exec(s))) {
      const start = Math.min(n - 1, Math.round(parseFloat(m[1]) / 100 * (n - 1)));
      const w = m[3] ? parseInt(m[3], 10) : 1;
      for (let j = start; j < Math.min(n, start + w); j++) out[j] = stripeLevels[m[2]];
    }
  }
  return out;
}
const totalCols = clusterCells.reduce((a, b) => a + b, 0) + gapCells.reduce((a, b) => a + b, 0);
const heat = [];
exprRows.forEach((row, r) => {
  const parts = row.split('|');
  let x = 0;
  clusters.forEach((_, k) => {
    const col = clusterColumn(geneBase[r], parts[k], clusterCells[k]);
    for (let j = 0; j < col.length; j++) heat.push([x + j, r, col[j]]);
    x += clusterCells[k] + (gapCells[k] || 0);
  });
});
const colNames = Array.from({length: totalCols}, (_, i) => i);

const barSeries = [];
clusters.forEach((name, k) => {
  barSeries.push({
    type: 'bar', name, stack: 'id', xAxisIndex: 1, yAxisIndex: 1, barWidth: '100%',
    silent: true, animation: false, data: [clusterCells[k]],
    itemStyle: {color: clusterColors[k]},
    label: {show: true, position: 'top', formatter: name, rotate: 45, align: 'left', verticalAlign: 'middle',
      distance: 0, offset: [20.5, -12], color: '#000', fontSize: 31, fontFamily: 'Liberation Sans'}
  });
  if (k < gapCells.length) barSeries.push({
    type: 'bar', name: 'gap' + k, stack: 'id', xAxisIndex: 1, yAxisIndex: 1, barWidth: '100%',
    silent: true, animation: false, data: [gapCells[k]], itemStyle: {color: 'rgba(0,0,0,0)'}
  });
});

const font = 'Liberation Sans';
const chart = echarts.init(document.getElementById('c'), null, {renderer: 'canvas', width: 2100, height: 1749});
chart.setOption({
  backgroundColor: '#fff',
  animation: false,
  title: [
    {text: 'Expression', left: 1952, top: 513, padding: 0, textStyle: {fontSize: 23, fontWeight: 'normal', color: '#000', fontFamily: font}},
    {text: 'Identity', left: 1952, top: 772, padding: 0, textStyle: {fontSize: 23, fontWeight: 'normal', color: '#000', fontFamily: font}}
  ],
  grid: [
    {left: 123, top: 134, width: totalCols, height: 1560},
    {left: 123, top: 76, width: totalCols, height: 31.7},
    {left: 1952, top: 545, width: 37, height: 180},
    {left: 123, top: 134.6, width: totalCols, height: 1560},
    {left: 1952, top: 547, width: 37, height: 180}
  ],
  xAxis: [
    {type: 'category', gridIndex: 0, data: colNames, show: false},
    {type: 'value', gridIndex: 1, min: 0, max: totalCols, show: false},
    {type: 'value', gridIndex: 2, min: 0, max: 1, show: false},
    {type: 'value', gridIndex: 3, min: 0, max: 1, show: false},
    {type: 'value', gridIndex: 4, min: 0, max: 1, show: false}
  ],
  yAxis: [
    {type: 'category', gridIndex: 0, data: genes, inverse: true, show: false},
    {type: 'category', gridIndex: 1, data: ['Identity'], show: false},
    {type: 'value', gridIndex: 2, min: -0.9, max: 2.5, position: 'right', z: 10,
      axisLine: {show: false}, splitLine: {show: false},
      axisTick: {show: true, inside: true, length: 7.5, customValues: [0, 1, 2], lineStyle: {color: '#fff', width: 1}},
      axisLabel: {show: false}},
    {type: 'value', gridIndex: 2, min: -0.9, max: 2.5, position: 'left', z: 10,
      axisLine: {show: false}, splitLine: {show: false},
      axisTick: {show: true, inside: true, length: 7.5, customValues: [0, 1, 2], lineStyle: {color: '#fff', width: 1}},
      axisLabel: {show: false}},
    {type: 'category', gridIndex: 3, data: genes, inverse: true,
      axisLine: {show: false}, axisTick: {show: false}, splitLine: {show: false},
      axisLabel: {interval: 0, fontSize: 12.6, color: '#4D4D4D', margin: 5, fontFamily: font}},
    {type: 'value', gridIndex: 4, min: -0.9, max: 2.5, position: 'right',
      axisLine: {show: false}, splitLine: {show: false}, axisTick: {show: false},
      axisLabel: {customValues: [0, 1, 2], fontSize: 16.5, color: '#000', margin: 12, fontFamily: font}}
  ],
  visualMap: {
    type: 'continuous', seriesIndex: 0, dimension: 2, min: -0.9, max: 2.5,
    inRange: {color: ['#FF00FF', '#000000', '#FFFF00']},
    left: 1952, top: 545, itemWidth: 37, itemHeight: 180, padding: 0, z: 1,
    calculable: false, realtime: false, hoverLink: false, showLabel: false, text: null
  },
  legend: {
    orient: 'vertical', left: 1965, top: 814, padding: 0, selectedMode: false, icon: 'circle',
    data: clusters, itemWidth: 10, itemHeight: 10, itemGap: 19,
    textStyle: {fontSize: 16.5, color: '#000', fontFamily: font, padding: [0, 0, 0, 21]}
  },
  series: [
    {type: 'heatmap', xAxisIndex: 0, yAxisIndex: 0, data: heat, progressive: 0, silent: true, animation: false,
      emphasis: {disabled: true}}
  ].concat(barSeries)
});
</script>
</body>
</html>
